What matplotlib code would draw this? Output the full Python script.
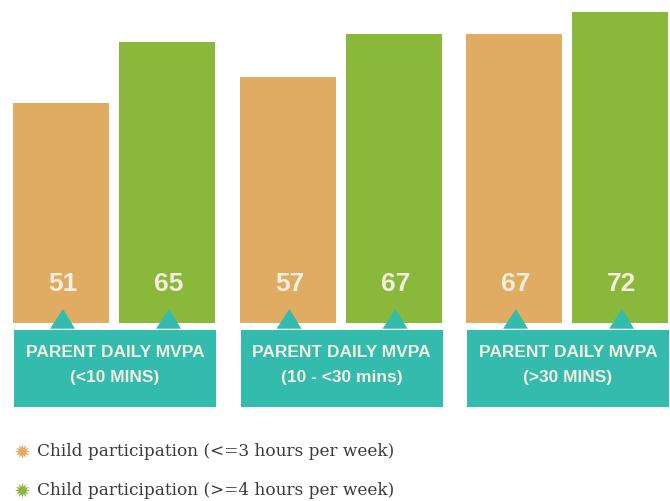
import matplotlib.pyplot as plt
from matplotlib.patches import Rectangle, Polygon

# data
groups = ["PARENT DAILY MVPA\n(<10 MINS)", "PARENT DAILY MVPA\n(10 - <30 mins)", "PARENT DAILY MVPA\n(>30 MINS)"]
low_participation = [51, 57, 67]
high_participation = [65, 67, 72]
series_labels = ["Child participation (<=3 hours per week)", "Child participation (>=4 hours per week)"]

ORANGE = "#E0AC62"
GREEN = "#8AB83A"
TEAL = "#33BBAE"
CREAM = "#F3EEDF"

# layout in pixel units along x, value units along y
PX = 4.32            # pixels per value unit
ZERO_ROW = 324       # pixel row of value 0
GROUP_STEP = 226.5
FIRST_LEFT = 13
BAR_W = 96
PAIR_GAP = 10


def row_to_val(row):
    return (ZERO_ROW - row) / PX


fig = plt.figure(figsize=(6.7, 5.02), dpi=100)
ax = fig.add_axes([0, 0, 1, 1])
ax.set_xlim(0, 670)
ax.set_ylim(row_to_val(502), row_to_val(0))
ax.axis("off")

lefts = [FIRST_LEFT + i * GROUP_STEP for i in range(len(groups))]
x_low = [l + BAR_W / 2 for l in lefts]
x_high = [l + BAR_W + PAIR_GAP + BAR_W / 2 for l in lefts]

ax.bar(x_low, low_participation, width=BAR_W, color=ORANGE)
ax.bar(x_high, high_participation, width=BAR_W, color=GREEN)

for xs, vals in ((x_low, low_participation), (x_high, high_participation)):
    for x, v in zip(xs, vals):
        ax.text(x + 2, row_to_val(284), str(v), ha="center", va="center",
                fontsize=19, fontweight="bold", color=CREAM,
                family="Liberation Sans")

# teal label boxes with pointers
box_top = row_to_val(331)
box_bot = row_to_val(408)
apex = row_to_val(310)
for i, l in enumerate(lefts):
    w = 2 * BAR_W + PAIR_GAP
    ax.add_patch(Rectangle((l + 1, box_bot), w, box_top - box_bot,
                           facecolor=TEAL, edgecolor="none"))
    for xc in (x_low[i], x_high[i]):
        ax.add_patch(Polygon([(xc - 11, box_top + 0.3), (xc + 2, apex),
                              (xc + 14, box_top + 0.3)],
                             closed=True, facecolor=TEAL, edgecolor="none"))
    ax.text(l + 1 + w / 2, row_to_val(365), groups[i], ha="center", va="center",
            fontsize=12.5, fontweight="bold", color=CREAM,
            family="Liberation Sans", linespacing=1.8)

# legend
for row, color, label in ((452, ORANGE, series_labels[0]), (491, GREEN, series_labels[1])):
    ax.plot([22], [row_to_val(row)], marker=(12, 1, 0), markersize=11,
            color=color, markeredgewidth=0)
    ax.text(37, row_to_val(row), label, ha="left", va="center",
            fontsize=12.2, color="#3a3a3a", family="DejaVu Serif")

fig.savefig("out.png", dpi=100)
